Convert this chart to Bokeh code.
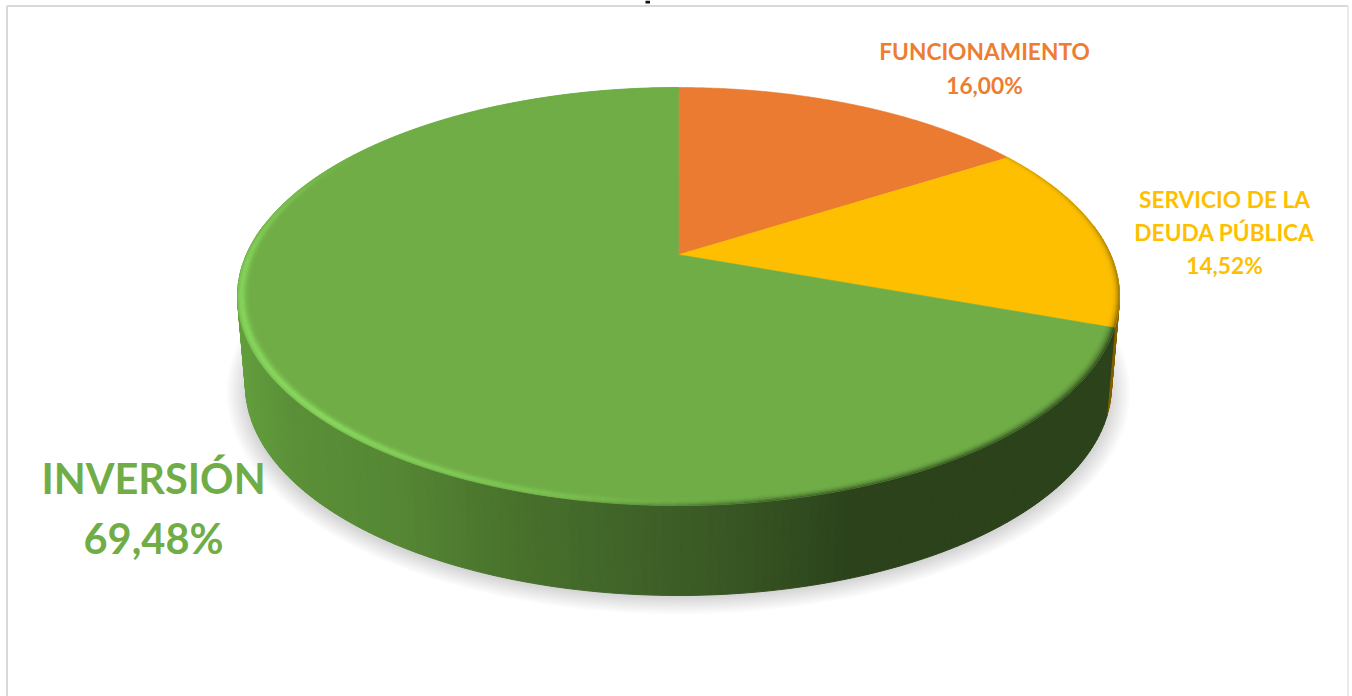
import numpy as np
from bokeh.core.properties import value
from bokeh.embed import file_html
from bokeh.models import ColumnDataSource, Range1d
from bokeh.plotting import figure
from bokeh.resources import INLINE

# Budget shares, clockwise from twelve o'clock
names = ["FUNCIONAMIENTO", "SERVICIO DE LA\nDEUDA PÚBLICA", "INVERSIÓN"]
shares = [16.00, 14.52, 69.48]
face_colors = ["#EA7B30", "#FDBF00", "#70AD47"]

W, H = 1352, 696
FONT = "Lato"

# Pie projection: disc seen in perspective, so its centre sits above the ellipse midpoint
CX = 678
TOP = dict(cy=296, rx=441, ry=209)
BOTTOM = dict(cy=385, rx=433, ry=210)
TILT = -0.2
BEVEL_WIDTH = 0.024


def project(theta, q, e):
    u, v = q * np.sin(theta), -q * np.cos(theta)
    d = 1 + TILT * v
    s = np.sqrt(1 - TILT ** 2)
    return CX + e["rx"] * u * s / d, e["cy"] + e["ry"] * (v + TILT) / d


def to_rgb(c):
    return np.array([int(c[i:i + 2], 16) for i in (1, 3, 5)], dtype=float)


def to_hex(rgb):
    return "#%02x%02x%02x" % tuple(int(round(x)) for x in rgb)


def mix(a, b, t):
    return to_rgb(a) * (1 - t) + to_rgb(b) * t


p = figure(width=W, height=H, output_backend="svg", toolbar_location=None,
           x_range=Range1d(0, W), y_range=Range1d(H, 0), min_border=0,
           background_fill_color="white", border_fill_color="white")
p.axis.visible = False
p.grid.visible = False
p.outline_line_color = None

# Chart frame and the clipped stub of the heading above it
p.line([6.5, 6.5], [H, 5.5], line_color="#d9d9d9", line_width=2)
p.line([6.5, 1347.5], [5.5, 5.5], line_color="#d9d9d9", line_width=2)
p.line([1347.5, 1347.5], [5.5, H], line_color="#e4e4e4", line_width=1.5)
p.quad(left=[645], right=[649.5], top=[0], bottom=[3], fill_color="#111111", line_color=None)

# Soft drop shadow from stacked translucent ellipses
layers = 14
for i in range(layers):
    f = i / (layers - 1)
    p.ellipse(x=[CX], y=[392], width=[2 * (452 - 20 * f)], height=[2 * (222 - 17 * f)],
              fill_color="#000000", fill_alpha=0.012, line_color=None)

# Slice boundaries in radians
edges = np.radians(np.concatenate([[0], np.cumsum(shares)]) * 3.6)

# Side wall, shaded from left to right
wall_x = [240, 300, 400, 500, 600, 700, 800, 850, 1120]
wall_green = ["#639F3E", "#5A8F37", "#558734", "#4A742C", "#42672A", "#3B5A25", "#304B1F", "#2B421B", "#2B421B"]
wall_rgb = np.array([to_rgb(c) for c in wall_green])
wall_xs, wall_ys, wall_cols = [], [], []
for i in (1, 2):
    a0, a1 = edges[i], edges[i + 1]
    steps = np.arange(a0, a1, np.radians(1.0))
    steps = np.append(steps, a1)
    for s0, s1 in zip(steps[:-1], steps[1:]):
        if np.cos((s0 + s1) / 2) > 0.15:
            continue
        tx0, ty0 = project(s0, 1, TOP)
        tx1, ty1 = project(s1, 1, TOP)
        bx0, by0 = project(s0, 1, BOTTOM)
        bx1, by1 = project(s1, 1, BOTTOM)
        wall_xs.append([tx0, tx1, bx1, bx0])
        wall_ys.append([ty0, ty1, by1, by0])
        if i == 1:
            wall_cols.append("#7F6000")
        else:
            xm = (bx0 + bx1) / 2
            wall_cols.append(to_hex([np.interp(xm, wall_x, wall_rgb[:, k]) for k in range(3)]))
p.patches(xs="xs", ys="ys", fill_color="c", line_color="c", line_width=1,
          source=ColumnDataSource(dict(xs=wall_xs, ys=wall_ys, c=wall_cols)))

# Top face wedges
face_xs, face_ys = [], []
for i in range(len(shares)):
    th = np.linspace(edges[i], edges[i + 1], 200)
    ex, ey = project(th, 1, TOP)
    ax, ay = project(np.array([0.0]), 0, TOP)
    face_xs.append(np.concatenate([ax, ex]).tolist())
    face_ys.append(np.concatenate([ay, ey]).tolist())
p.patches(xs=face_xs, ys=face_ys, fill_color=face_colors, line_color=face_colors, line_width=0.6)

# Rounded rim: a lit band towards lower left, a dark fade on the lower right.
# t runs from 0 on the outer edge to 1 on the inner edge of the rim.
rim_xs, rim_ys, rim_cols = [], [], []
bands = 7
for i in range(len(shares)):
    deg0, deg1 = np.degrees(edges[i]), np.degrees(edges[i + 1])
    steps = np.radians(np.arange(deg0, deg1 + 1.5, 1.5).clip(max=deg1))
    for s0, s1 in zip(steps[:-1], steps[1:]):
        d = np.degrees((s0 + s1) / 2)
        for b in range(bands):
            t = (b + 0.5) / bands
            q0 = 1 - BEVEL_WIDTH * b / bands
            q1 = 1 - BEVEL_WIDTH * (b + 1) / bands
            col = to_rgb(face_colors[i])
            if i == 2:
                lit = np.interp(d, [112, 170, 188, 225, 270, 305], [0, 0, 0.35, 1, 0.8, 0])
                dark = np.interp(d, [110, 170, 192], [1, 0.8, 0]) * (1 - t) ** 2.2
                bell = np.exp(-((t - 0.38) / 0.4) ** 2)
                col = mix(face_colors[2], "#8ADB60", lit * bell)
                col = col * (1 - dark) + to_rgb("#2B421B") * dark
            elif i == 1:
                dark = np.interp(d, [58, 85, 108], [0.35, 0.6, 1]) * (1 - t) ** 3
                col = mix(face_colors[1], "#7F6000", dark)
            else:
                continue
            x0, y0 = project(s0, q0, TOP)
            x1, y1 = project(s1, q0, TOP)
            x2, y2 = project(s1, q1, TOP)
            x3, y3 = project(s0, q1, TOP)
            rim_xs.append([x0, x1, x2, x3])
            rim_ys.append([y0, y1, y2, y3])
            rim_cols.append(to_hex(col))
p.patches(xs="xs", ys="ys", fill_color="c", line_color="c", line_width=0.4,
          source=ColumnDataSource(dict(xs=rim_xs, ys=rim_ys, c=rim_cols)))


def pct(v):
    return f"{v:.2f}".replace(".", ",") + "%"


# Slice labels
small = "22.7px"
big = "41.5px"
label_x = [984, 1224, 153]
label_y = [[51, 85], [199, 232, 265], [477, 537]]
label_sizes = [small, small, big]
for i in range(len(shares)):
    lines = names[i].split("\n") + [pct(shares[i])]
    p.text(x=[label_x[i]] * len(lines), y=label_y[i], text=lines,
           text_color=face_colors[i] if i != 0 else "#ED7D31",
           text_font=value(FONT), text_font_style="bold", text_font_size=label_sizes[i],
           text_align="center", text_baseline="middle")

open("out.html", "w").write(file_html(p, INLINE))
